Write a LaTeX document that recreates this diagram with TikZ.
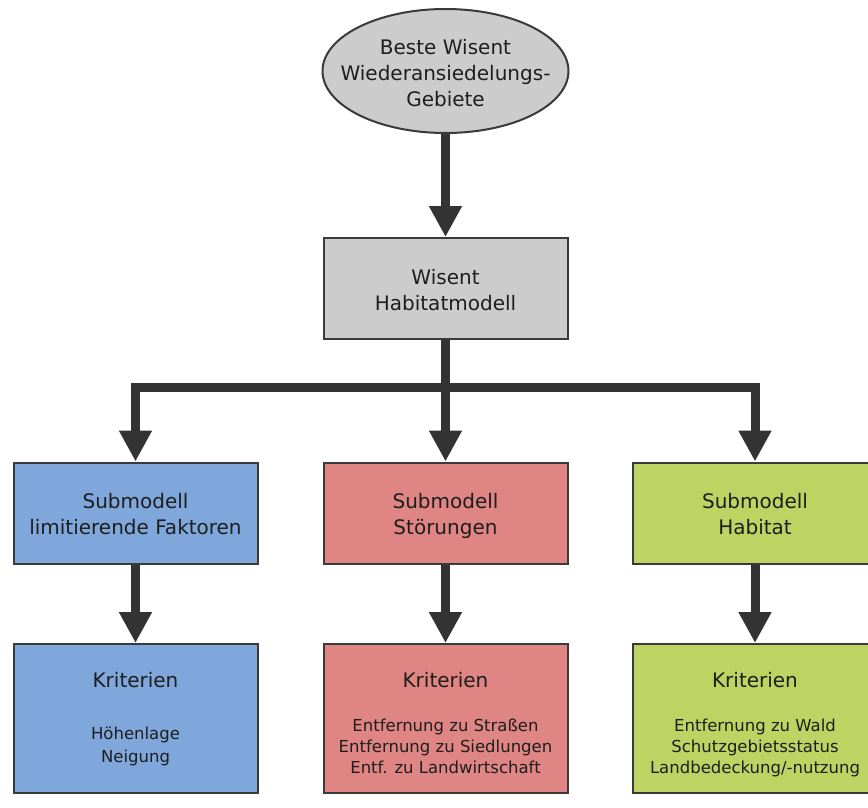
\documentclass[tikz,border=0pt]{standalone}
\usepackage{fontspec}
\setmainfont{DejaVu Sans}
\usetikzlibrary{arrows.meta,shapes.geometric}
\definecolor{boxedge}{HTML}{3A3A3A}
\definecolor{arrc}{HTML}{333333}
\definecolor{textc}{HTML}{1E1E1E}
\definecolor{grayfill}{HTML}{CCCCCC}
\definecolor{bluefill}{HTML}{7FA7DB}
\definecolor{redfill}{HTML}{DF8583}
\definecolor{greenfill}{HTML}{BDD362}
\newcommand{\topstrut}{\rule{0pt}{22pt}}
\newcommand{\botstrut}{\rule[-5pt]{0pt}{5pt}}
\begin{document}
\begin{tikzpicture}[x=1pt,y=-1pt,
  box/.style={draw=boxedge, line width=2pt, minimum width=244pt, minimum height=101pt, inner sep=0pt, align=center, font=\fontsize{20}{26}\selectfont, text=textc},
  kbox/.style={draw=boxedge, line width=2pt, minimum width=244pt, minimum height=149pt, inner sep=0pt},
  arr/.style={draw=arrc, line width=9pt, -{Triangle[width=31pt,length=31pt]}},
  big/.style={font=\fontsize{20}{26}\selectfont, text=textc, anchor=base, inner sep=0pt},
  small/.style={font=\fontsize{16.5}{21}\selectfont, text=textc, anchor=base, inner sep=0pt}]
\useasboundingbox (0,0) rectangle (868,808);
\clip (0,0) rectangle (868,808);
% top ellipse
\node[ellipse, draw=boxedge, line width=2pt, fill=grayfill, minimum width=246pt, minimum height=124pt, inner sep=0pt] (goal) at (445.5,71) {};
\node[align=center, font=\fontsize{20}{26}\selectfont, text=textc, inner sep=0pt] (goaltext) at (445.5,73.5) {Beste Wisent\\Wiederansiedelungs-\\Gebiete};
% habitat model
\node[box, fill=grayfill] (hab) at (445.5,288.5) {\topstrut Wisent\\Habitatmodell\botstrut};
% submodels
\node[box, fill=bluefill] (s1) at (135.5,513) {\topstrut Submodell\\limitierende Faktoren\botstrut};
\node[box, fill=redfill] (s2) at (445.5,513) {\topstrut Submodell\\Störungen\botstrut};
\node[box, fill=greenfill] (s3) at (755,513) {\topstrut Submodell\\Habitat\botstrut};
% criteria boxes
\node[kbox, fill=bluefill] (k1) at (135.5,718.5) {};
\node[kbox, fill=redfill] (k2) at (445.5,718.5) {};
\node[kbox, fill=greenfill] (k3) at (755,718.5) {};
% criteria texts
\node[big] (k1t) at (135.5,687) {Kriterien};
\node[small] (k1a) at (135.5,739) {Höhenlage};
\node[small] (k1b) at (135.5,762) {Neigung};
\node[big] (k2t) at (445.5,687) {Kriterien};
\node[small] (k2a) at (445.5,731) {Entfernung zu Straßen};
\node[small] (k2b) at (445.5,752) {Entfernung zu Siedlungen};
\node[small] (k2c) at (445.5,773) {Entf. zu Landwirtschaft};
\node[big] (k3t) at (755,687) {Kriterien};
\node[small] (k3a) at (755,731) {Entfernung zu Wald};
\node[small] (k3b) at (755,752) {Schutzgebietsstatus};
\node[small] (k3c) at (755,773) {Landbedeckung/-nutzung};
% connectors
\coordinate (j) at (445.5,387);
\draw[arr] (goal.south) -- (hab.north);
\draw[arr] (hab.south) -- (s2.north);
\draw[arr] (j) -| (s1.north);
\draw[arr] (j) -| (s3.north);
\draw[arr] (s1.south) -- (k1.north);
\draw[arr] (s2.south) -- (k2.north);
\draw[arr] (s3.south) -- (k3.north);
\end{tikzpicture}
\end{document}
